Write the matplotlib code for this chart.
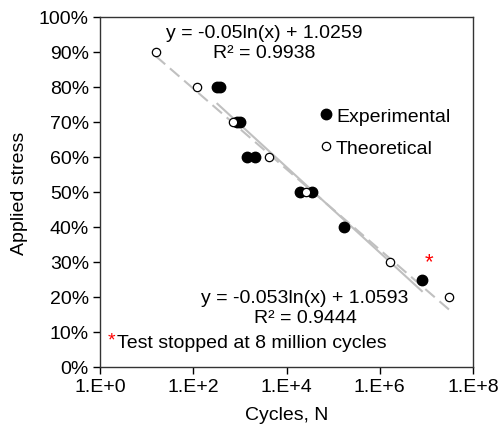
import numpy as np
import matplotlib
matplotlib.use("Agg")
import matplotlib.pyplot as plt
from matplotlib.ticker import FixedLocator, FuncFormatter

plt.rcParams['font.family'] = ['Liberation Sans', 'DejaVu Sans']

# S-N data: applied stress (fraction of ultimate) vs cycles to failure
exp_cycles = [330, 380, 860, 1020, 1450, 2150, 19500, 36000, 175000, 8.0e6]
exp_stress = [0.80, 0.80, 0.70, 0.70, 0.60, 0.60, 0.50, 0.50, 0.40, 0.25]

theo_cycles = [15.7, 118, 700, 4250, 26000, 1.66e6, 3.1e7]
theo_stress = [0.90, 0.80, 0.70, 0.60, 0.50, 0.30, 0.20]

# logarithmic trendlines y = a*ln(x) + b
exp_fit = (-0.053, 1.0593, 0.9444)
theo_fit = (-0.05, 1.0259, 0.9938)

y_ticks = [0.0, 0.1, 0.2, 0.3, 0.4, 0.5, 0.6, 0.7, 0.8, 0.9, 1.0]
x_ticks = [1e0, 1e2, 1e4, 1e6, 1e8]

fig = plt.figure(figsize=(4.99, 4.27), dpi=100)
ax = fig.add_axes([100 / 499, 1 - 368 / 427, 373 / 499, 350 / 427])

line_col = '#c0c0c0'

# trendlines over the range of each data set
xs = np.logspace(np.log10(min(exp_cycles)), np.log10(max(exp_cycles)), 100)
ax.plot(xs, exp_fit[0] * np.log(xs) + exp_fit[1], color=line_col, lw=1.5,
        zorder=1)
xt = np.logspace(np.log10(min(theo_cycles)), np.log10(max(theo_cycles)), 100)
ax.plot(xt, theo_fit[0] * np.log(xt) + theo_fit[1], color=line_col, lw=1.5,
        ls=(0, (6, 3)), zorder=1)

ax.plot(exp_cycles, exp_stress, 'o', color='black', ms=7.5, zorder=3,
        label='Experimental')
ax.plot(theo_cycles, theo_stress, 'o', mfc='white', mec='black', mew=0.9,
        ms=6, zorder=3, label='Theoretical')

ax.set_xscale('log')
ax.set_xlim(1, 1e8)
ax.set_ylim(0, 1)
ax.xaxis.set_major_locator(FixedLocator(x_ticks))
ax.xaxis.set_minor_locator(FixedLocator([]))
ax.xaxis.set_major_formatter(FuncFormatter(lambda v, p: '1.E+%d' % round(np.log10(v))))
ax.yaxis.set_major_locator(FixedLocator(y_ticks))
ax.yaxis.set_major_formatter(FuncFormatter(lambda v, p: '%d%%' % round(v * 100)))
ax.tick_params(direction='out', length=5, width=1, colors='black',
               labelsize=14, pad=3)
for s in ax.spines.values():
    s.set_color('#333333')
    s.set_linewidth(1)

ax.set_xlabel('Cycles, N', fontsize=14, labelpad=8)
ax.set_ylabel('Applied stress', fontsize=14, labelpad=8)

ax.legend(loc='upper left', bbox_to_anchor=(0.56, 0.764), frameon=False,
          fontsize=14, handletextpad=0.0, borderaxespad=0, labelspacing=0.75,
          handlelength=1.0)

ax.text(0.44, 0.98, 'y = %gln(x) + %.4f\nR² = %.4f' % theo_fit,
        transform=ax.transAxes, ha='center', va='top', fontsize=14,
        linespacing=1.25)
ax.text(0.55, 0.223, 'y = %gln(x) + %.4f\nR² = %.4f' % exp_fit,
        transform=ax.transAxes, ha='center', va='top', fontsize=14,
        linespacing=1.25)

ax.text(0.02, 0.078, '*', color='red', transform=ax.transAxes, ha='left',
        va='center', fontsize=14)
ax.text(0.045, 0.07, 'Test stopped at 8 million cycles', transform=ax.transAxes,
        ha='left', va='center', fontsize=14)
ax.annotate('*', (exp_cycles[-1], exp_stress[-1]), xytext=(5, 5),
            textcoords='offset points', color='red', fontsize=16,
            ha='center', va='bottom')

fig.savefig('out.png', dpi=100)
